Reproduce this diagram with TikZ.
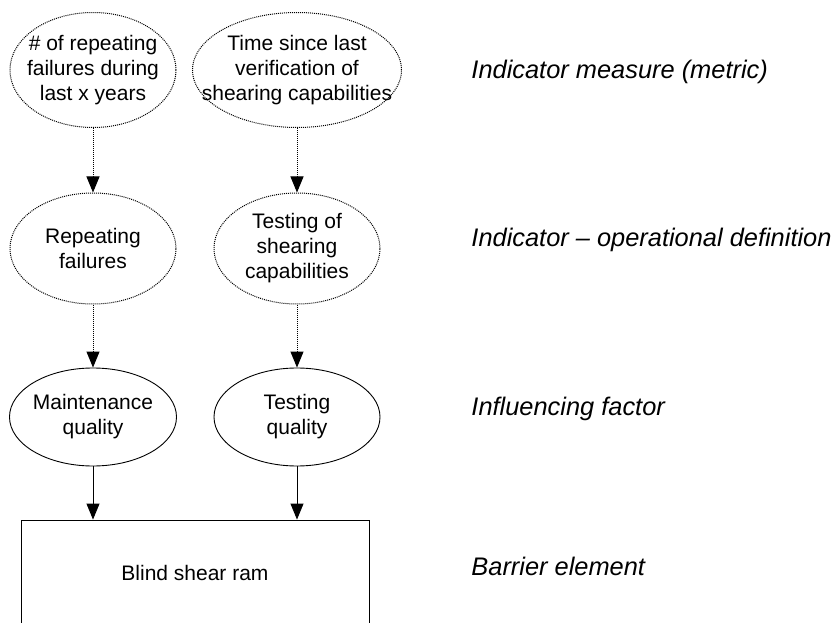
\documentclass[tikz,border=0pt]{standalone}
\usepackage{fontspec}
\setmainfont{Liberation Sans}
\usetikzlibrary{shapes.geometric,arrows.meta}
\begin{document}
\begin{tikzpicture}[x=1pt,y=-1pt,line width=0.9pt,
  nodefont/.style={font=\fontsize{21}{25}\selectfont},
  sidefont/.style={font=\fontsize{25.4}{30}\selectfont\itshape},
  oval/.style={ellipse,draw,inner sep=0pt},
  dottedoval/.style={oval,line width=1pt,dash pattern=on 1pt off 1pt},
  flow/.style={-{Triangle[length=16pt,width=13pt]}},
  dottedflow/.style={flow,line width=1pt,dash pattern=on 1pt off 1pt},
  sidelabel/.style={sidefont,anchor=west,inner sep=0pt}]
\clip (0,0) rectangle (836,623);
% top row
\node[dottedoval,minimum width=166pt,minimum height=115pt,
  label={[nodefont,align=center]center:\# of repeating\\failures during\\last x years}] (m1) at (93,70) {};
\node[dottedoval,minimum width=209pt,minimum height=115pt,
  label={[nodefont,align=center]center:Time since last\\verification of\\shearing capabilities}] (m2) at (297,70) {};
% middle row
\node[dottedoval,minimum width=166pt,minimum height=111pt,
  label={[nodefont,align=center]center:Repeating\\failures}] (d1) at (93,248.5) {};
\node[dottedoval,minimum width=166pt,minimum height=111pt,
  label={[nodefont,align=center]center:Testing of\\shearing\\capabilities}] (d2) at (297,248.5) {};
% influencing factors
\node[oval,minimum width=167pt,minimum height=98pt,
  label={[nodefont,align=center]center:Maintenance\\quality}] (f1) at (93,417) {};
\node[oval,minimum width=166pt,minimum height=98pt,
  label={[nodefont,align=center]center:Testing\\quality}] (f2) at (297,417) {};
% barrier element
\node[draw,minimum width=348pt,minimum height=106pt,inner sep=0pt,nodefont] (b) at (195,573) {Blind shear ram};
% connectors
\draw[dottedflow] (m1.south) -- (d1.north);
\draw[dottedflow] (m2.south) -- (d2.north);
\draw[dottedflow] (d1.south) -- (f1.north);
\draw[dottedflow] (d2.south) -- (f2.north);
\draw[flow] (f1.south) -- (f1.south |- b.north);
\draw[flow] (f2.south) -- (f2.south |- b.north);
% side labels
\node[sidelabel] (l1) at (471,72) {Indicator measure (metric)};
\node[sidelabel] (l2) at (471,240) {Indicator -- operational definition};
\node[sidelabel] (l3) at (471,409) {Influencing factor};
\node[sidelabel] (l4) at (471,566) {Barrier element};
\end{tikzpicture}
\end{document}
